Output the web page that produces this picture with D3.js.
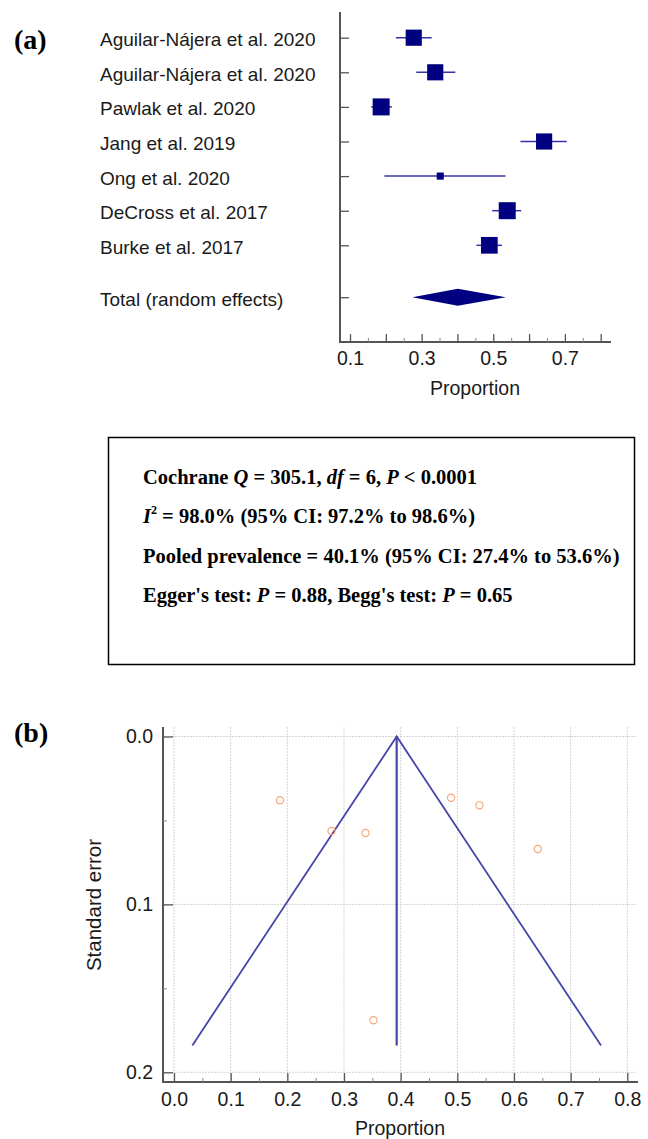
<!DOCTYPE html>
<html>
<head>
<meta charset="utf-8">
<script src="https://cdn.jsdelivr.net/npm/d3@7"></script>
<style>
  body { margin: 0; background: #fff; }
  svg text { font-family: "Liberation Sans", Arial, sans-serif; fill: #1a1a1a; }
  .serif { font-family: "Liberation Serif", "Times New Roman", serif !important; font-weight: bold; fill: #000 !important; }
</style>
</head>
<body>
<svg id="chart" width="648" height="1139"></svg>
<script>
// ---- data ----
var studies = ["Aguilar-Nájera et al. 2020", "Aguilar-Nájera et al. 2020", "Pawlak et al. 2020",
               "Jang et al. 2019", "Ong et al. 2020", "DeCross et al. 2017", "Burke et al. 2017"];
var proportion = [0.278, 0.338, 0.187, 0.642, 0.352, 0.539, 0.489];
var ciLow      = [0.228, 0.285, 0.159, 0.576, 0.196, 0.497, 0.453];
var ciHigh     = [0.328, 0.394, 0.217, 0.705, 0.534, 0.578, 0.524];
var weight     = [15.0, 15.0, 16.6, 15.0, 2.9, 16.6, 16.0];
var stdError   = [0.0563, 0.0575, 0.038, 0.067, 0.169, 0.041, 0.0365];

var totalLabel = "Total (random effects)";
var totalEst = 0.401, totalLow = 0.274, totalHigh = 0.535;

var funnelCenter = 0.393, funnelMaxSE = 0.184;

var forestTicks = [0.1, 0.2, 0.3, 0.4, 0.5, 0.6, 0.7, 0.8];
var forestLabels = [0.1, 0.3, 0.5, 0.7];
var forestMinor = [0.15, 0.25, 0.35, 0.45, 0.55, 0.65, 0.75];
var funnelXTicks = [0, 0.1, 0.2, 0.3, 0.4, 0.5, 0.6, 0.7, 0.8];
var funnelXMinor = [0.05, 0.15, 0.25, 0.35, 0.45, 0.55, 0.65, 0.75];
var funnelYTicks = [0, 0.1, 0.2];
var funnelYMinor = [0.05, 0.15];

// stats box lines: [text, style] (0 normal, 1 italic, 2 superscript)
var statLines = [
  [["Cochrane ", 0], ["Q", 1], [" = 305.1, ", 0], ["df", 1], [" = 6, ", 0], ["P", 1], [" < 0.0001", 0]],
  [["I", 1], ["2", 2], [" = 98.0% (95% CI: 97.2% to 98.6%)", 0]],
  [["Pooled prevalence = 40.1% (95% CI: 27.4% to 53.6%)", 0]],
  [["Egger's test: ", 0], ["P", 1], [" = 0.88, Begg's test: ", 0], ["P", 1], [" = 0.65", 0]]
];

var svg = d3.select("#chart");
var axisColor = "#555";
var navy = "#000080";
var tickFont = "19.5px";

function styleAxis(g) {
  g.select(".domain").remove();
  g.selectAll("line").attr("stroke", axisColor).attr("stroke-width", 1.3);
  g.selectAll("text").style("font-size", tickFont).attr("fill", "#1a1a1a")
    .style("font-family", "Liberation Sans, Arial, sans-serif");
}
function styleMinor(g) {
  g.select(".domain").remove();
  g.selectAll("line").attr("stroke", "#888").attr("stroke-width", 1);
}

// ================= (a) forest plot =================
var fx = d3.scaleLinear().domain([0.1, 0.8]).range([350, 600.7]);
var fy = d3.scaleLinear().domain([0, 7.5]).range([37.7, 297.2]);
var sz = d3.scaleSqrt().domain([0, d3.max(weight)]).range([0, 17]);

svg.append("text").attr("class", "serif").attr("x", 14).attr("y", 49)
  .style("font-size", "28px").text("(a)");

var forest = svg.append("g");

// y axis with row ticks
forest.append("line").attr("x1", 340).attr("x2", 340).attr("y1", 12).attr("y2", 342.5)
  .attr("stroke", axisColor).attr("stroke-width", 2);
var rowIdx = d3.range(studies.length).concat([7.5]);
forest.append("g").attr("transform", "translate(340,0)")
  .call(d3.axisLeft(fy).tickValues(rowIdx).tickSize(-9).tickFormat(""))
  .call(styleAxis);

// x axis
forest.append("line").attr("x1", 339).attr("x2", 611).attr("y1", 342).attr("y2", 342)
  .attr("stroke", axisColor).attr("stroke-width", 2);
forest.append("g").attr("transform", "translate(0,342)")
  .call(d3.axisBottom(fx).tickValues(forestTicks).tickSize(-8).tickPadding(9)
    .tickFormat(function(d) { return forestLabels.some(function(v) { return Math.abs(v - d) < 1e-9; }) ? d3.format(".1f")(d) : ""; }))
  .call(styleAxis);
forest.append("g").attr("transform", "translate(0,342)")
  .call(d3.axisBottom(fx).tickValues(forestMinor).tickSize(-4).tickFormat(""))
  .call(styleMinor);

forest.append("text").attr("x", 475).attr("y", 395).attr("text-anchor", "middle")
  .style("font-size", tickFont).text("Proportion");

// study labels
forest.selectAll("text.lab").data(studies.concat([totalLabel])).enter().append("text")
  .attr("class", "lab").attr("x", 100)
  .attr("y", function(d, i) { return fy(rowIdx[i]) + 2; })
  .attr("dominant-baseline", "central")
  .style("font-size", "19px").text(function(d) { return d; });

// CI lines
forest.selectAll("line.ci").data(proportion).enter().append("line").attr("class", "ci")
  .attr("x1", function(d, i) { return fx(ciLow[i]); })
  .attr("x2", function(d, i) { return fx(ciHigh[i]); })
  .attr("y1", function(d, i) { return fy(i); })
  .attr("y2", function(d, i) { return fy(i); })
  .attr("stroke", "#3434a4").attr("stroke-width", 1.5);

// squares
forest.selectAll("rect.est").data(proportion).enter().append("rect").attr("class", "est")
  .attr("x", function(d, i) { return fx(d) - sz(weight[i]) / 2; })
  .attr("y", function(d, i) { return fy(i) - sz(weight[i]) / 2; })
  .attr("width", function(d, i) { return sz(weight[i]); })
  .attr("height", function(d, i) { return sz(weight[i]); })
  .attr("fill", navy);

// pooled diamond
var ty = fy(7.5);
forest.append("path")
  .attr("d", "M" + fx(totalLow) + "," + ty + "L" + fx(totalEst) + "," + (ty - 8.5) +
             "L" + fx(totalHigh) + "," + ty + "L" + fx(totalEst) + "," + (ty + 8.5) + "Z")
  .attr("fill", navy);

// ================= stats box =================
svg.append("rect").attr("x", 108.5).attr("y", 437.5).attr("width", 526).attr("height", 227)
  .attr("fill", "none").attr("stroke", "#000").attr("stroke-width", 1.5);

var lineY = [484, 523, 563, 602];
statLines.forEach(function(segs, li) {
  var t = svg.append("text").attr("class", "serif").attr("x", 143).attr("y", lineY[li])
    .style("font-size", "20.5px");
  segs.forEach(function(s) {
    var ts = t.append("tspan").text(s[0]);
    if (s[1] === 1) ts.style("font-style", "italic");
    if (s[1] === 2) ts.attr("dy", -9).style("font-size", "12px");
    if (s[1] === 0 && li === 1) ts.attr("dy", 9);
  });
});

// ================= (b) funnel plot =================
var bx = d3.scaleLinear().domain([0, 0.8]).range([174, 627.3]);
var by = d3.scaleLinear().domain([0, 0.2]).range([736.5, 1072.3]);

svg.append("text").attr("class", "serif").attr("x", 14).attr("y", 742)
  .style("font-size", "28px").text("(b)");

var funnel = svg.append("g");

// grid
funnel.selectAll("line.vg").data(funnelXTicks).enter().append("line").attr("class", "vg")
  .attr("x1", bx).attr("x2", bx).attr("y1", 727).attr("y2", 1082)
  .attr("stroke", "#d4d4d4").attr("stroke-width", 1).attr("stroke-dasharray", "2,1");
funnel.selectAll("line.hg").data(funnelYTicks).enter().append("line").attr("class", "hg")
  .attr("x1", 163).attr("x2", 637).attr("y1", by).attr("y2", by)
  .attr("stroke", "#d4d4d4").attr("stroke-width", 1).attr("stroke-dasharray", "2,1");

// axes
funnel.append("line").attr("x1", 163).attr("x2", 163).attr("y1", 727).attr("y2", 1083)
  .attr("stroke", axisColor).attr("stroke-width", 2);
funnel.append("line").attr("x1", 162).attr("x2", 638).attr("y1", 1082).attr("y2", 1082)
  .attr("stroke", axisColor).attr("stroke-width", 2);

funnel.append("g").attr("transform", "translate(0,1082)")
  .call(d3.axisBottom(bx).tickValues(funnelXTicks).tickSize(-9).tickPadding(10).tickFormat(d3.format(".1f")))
  .call(styleAxis);
funnel.append("g").attr("transform", "translate(0,1082)")
  .call(d3.axisBottom(bx).tickValues(funnelXMinor).tickSize(-4).tickFormat(""))
  .call(styleMinor);

funnel.append("g").attr("transform", "translate(163,0)")
  .call(d3.axisLeft(by).tickValues(funnelYTicks).tickSize(-10).tickPadding(10).tickFormat(d3.format(".1f")))
  .call(styleAxis);
funnel.append("g").attr("transform", "translate(163,0)")
  .call(d3.axisLeft(by).tickValues(funnelYMinor).tickSize(-4).tickFormat(""))
  .call(styleMinor);

funnel.append("text").attr("x", 400).attr("y", 1135).attr("text-anchor", "middle")
  .style("font-size", tickFont).text("Proportion");
funnel.append("text").attr("transform", "translate(101,905) rotate(-90)").attr("text-anchor", "middle")
  .style("font-size", "20.5px").text("Standard error");

// funnel lines
var lineColor = "#4646a8";
var fl = d3.line().x(function(d) { return bx(d[0]); }).y(function(d) { return by(d[1]); });
funnel.append("path")
  .attr("d", fl([[funnelCenter - 1.96 * funnelMaxSE, funnelMaxSE], [funnelCenter, 0], [funnelCenter + 1.96 * funnelMaxSE, funnelMaxSE]]))
  .attr("fill", "none").attr("stroke", lineColor).attr("stroke-width", 1.8);
funnel.append("path")
  .attr("d", fl([[funnelCenter, 0], [funnelCenter, funnelMaxSE]]))
  .attr("fill", "none").attr("stroke", lineColor).attr("stroke-width", 2.2);

// study points
funnel.selectAll("circle.pt").data(proportion).enter().append("circle").attr("class", "pt")
  .attr("cx", function(d) { return bx(d); })
  .attr("cy", function(d, i) { return by(stdError[i]); })
  .attr("r", 3.6)
  .attr("fill", "none").attr("stroke", "#f7a679").attr("stroke-width", 1.2);
</script>
</body>
</html>
